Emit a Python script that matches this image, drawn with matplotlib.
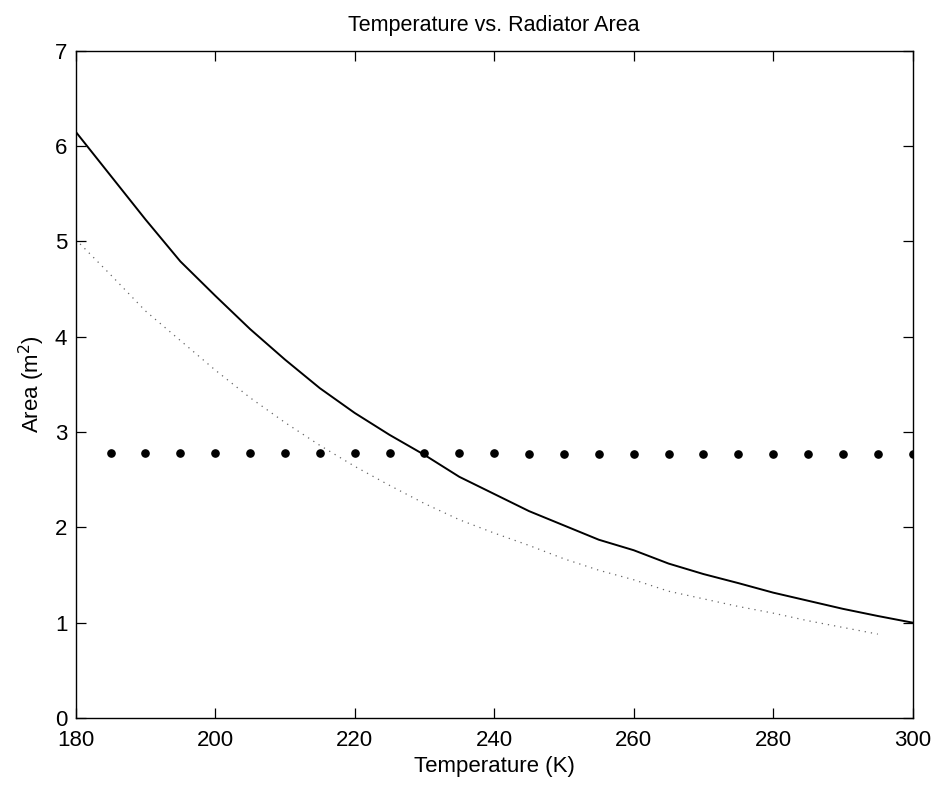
import matplotlib
matplotlib.use("Agg")
import matplotlib.pyplot as plt

plt.rcParams['font.family'] = ['Liberation Sans', 'DejaVu Sans']

temp_solid = [180, 185, 190, 195, 200, 205, 210, 215, 220, 225, 230, 235, 240,
              245, 250, 255, 260, 265, 270, 275, 280, 285, 290, 295, 300]
area_solid = [6.15, 5.69, 5.23, 4.79, 4.43, 4.08, 3.76, 3.46, 3.20, 2.97, 2.76,
              2.53, 2.35, 2.17, 2.02, 1.87, 1.76, 1.62, 1.51, 1.415, 1.315, 1.23,
              1.145, 1.07, 1.0]

temp_dotted = [180, 185, 190, 195, 200, 205, 210, 215, 220, 225, 230, 235, 240,
               245, 250, 255, 260, 265, 270, 275, 280, 285, 290, 295]
area_dotted = [5.02, 4.65, 4.27, 3.96, 3.65, 3.36, 3.10, 2.86, 2.64, 2.44, 2.25,
               2.08, 1.94, 1.81, 1.67, 1.55, 1.45, 1.33, 1.25, 1.17, 1.10, 1.02,
               0.95, 0.88]

temp_pts = [185, 190, 195, 200, 205, 210, 215, 220, 225, 230, 235, 240, 245, 250,
            255, 260, 265, 270, 275, 280, 285, 290, 295, 300]
area_pts = [2.78, 2.78, 2.78, 2.78, 2.78, 2.78, 2.775, 2.775, 2.775, 2.775, 2.775,
            2.775, 2.77, 2.77, 2.77, 2.77, 2.77, 2.77, 2.765, 2.765, 2.765, 2.765,
            2.765, 2.765]

xticks = [180, 200, 220, 240, 260, 280, 300]
yticks = [0, 1, 2, 3, 4, 5, 6, 7]

fig = plt.figure(figsize=(9.42, 7.88), dpi=100)
ax = fig.add_axes([75.7 / 942, 1 - 718 / 788, (912.7 - 75.7) / 942, (718 - 50.7) / 788])

ax.plot(temp_solid, area_solid, color='black', linewidth=1.4)
ax.plot(temp_dotted, area_dotted, color='0.4', linewidth=0.9, linestyle=(0, (1, 4)))
ax.plot(temp_pts, area_pts, linestyle='none', marker='o', markersize=5.2,
        color='black')

ax.set_xlim(180, 300)
ax.set_ylim(0, 7)
ax.set_xticks(xticks)
ax.set_yticks(yticks)
ax.tick_params(direction='in', length=7, width=0.9, top=True, right=True,
               labelsize=16)
ax.tick_params(axis='x', pad=9)
ax.tick_params(axis='y', pad=6)
for s in ax.spines.values():
    s.set_linewidth(1.0)
    s.set_color('black')

ax.set_title('Temperature vs. Radiator Area', fontsize=15.5, pad=14)
ax.set_xlabel('Temperature (K)', fontsize=16, labelpad=3)
ax.set_ylabel('Area (m$^2$)', fontsize=16, labelpad=6)

fig.savefig('out.png', dpi=100)
